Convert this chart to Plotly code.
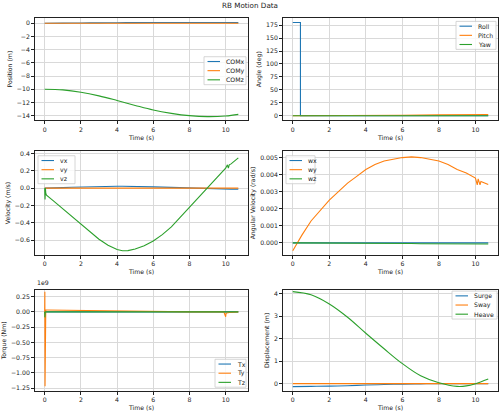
import plotly.graph_objects as go
from plotly.subplots import make_subplots

# ---- data ----
t_pos = [0, 1, 2, 3, 4, 5, 6, 7, 8, 9, 10, 10.7]
com_x = [0.0, 0.01, 0.03, 0.05, 0.07, 0.09, 0.1, 0.11, 0.11, 0.1, 0.1, 0.09]
com_y = [0.0, 0.0, 0.0, 0.0, 0.0, 0.0, 0.0, 0.0, 0.0, 0.0, 0.0, 0.0]
com_z = [-10.0, -10.1, -10.45, -11.0, -11.7, -12.45, -13.15, -13.65, -14.0, -14.15, -14.05, -13.8]

t_ang = [0, 0.42, 0.42, 2, 4, 6, 8, 10, 10.7]
roll = [180, 180, 0, 0, 0, 0, 0, 0, 0]
pitch = [0, 0, 0, 0.3, 0.7, 1.1, 1.6, 2.1, 2.4]
yaw = [0, 0, 0, 0, 0, 0, 0, 0, 0]

t_vel = [0, 0.02, 0.04, 0.06, 0.1, 0.5, 1, 1.5, 2, 2.5, 3, 3.5, 4, 4.3, 4.6, 5, 5.5, 6, 6.5,
         7, 7.5, 8, 8.5, 9, 9.5, 10, 10.1, 10.15, 10.2, 10.3, 10.7]
vx = [0, 0, 0, 0, 0.001, 0.003, 0.006, 0.01, 0.014, 0.017, 0.02, 0.021, 0.022, 0.022, 0.022,
      0.02, 0.018, 0.015, 0.012, 0.008, 0.004, 0.0, -0.002, -0.005, -0.007, -0.01, -0.01,
      -0.01, -0.01, -0.011, -0.012]
vy = [0] * len(t_vel)
vz = [0, -0.13, 0.0, -0.06, -0.08, -0.15, -0.24, -0.33, -0.42, -0.51, -0.59, -0.66, -0.71,
      -0.724, -0.722, -0.703, -0.665, -0.61, -0.537, -0.447, -0.335, -0.22, -0.105, 0.0, 0.12,
      0.23, 0.27, 0.23, 0.27, 0.28, 0.35]

t_w = [0, 0.24, 0.5, 1, 1.5, 2, 2.5, 3, 3.5, 4, 4.5, 5, 5.5, 6, 6.5, 7, 7.5, 8, 8.5, 9,
       9.5, 10, 10.1, 10.15, 10.25, 10.3, 10.7]
wx = [0] * len(t_w)
wy = [-0.00047, 0.0, 0.00045, 0.00128, 0.0019, 0.0025, 0.003, 0.0035, 0.0039, 0.0043,
      0.0046, 0.0048, 0.0049, 0.005, 0.00504, 0.005, 0.0049, 0.0048, 0.0046, 0.0043,
      0.0041, 0.0038, 0.0034, 0.00375, 0.0034, 0.0036, 0.00342]
wz = [0.0, 0.0, 0.0, -0.000005, -0.000008, -0.00001, -0.000015, -0.00002, -0.000025,
      -0.00003, -0.00003, -0.00003, -0.000035, -0.00004, -0.00004, -0.00005, -0.00005,
      -0.00005, -0.000055, -0.00006, -0.00006, -0.00006, -0.00006, -0.00006, -0.00007,
      -0.00007, -0.00007]

t_tq = [0, 0.01, 0.02, 0.03, 0.06, 0.1, 2, 4, 6, 8, 9.9, 10.0, 10.02, 10.05, 10.2, 10.7]
tx = [0, -0.02e9, 0.01e9, 0, 0, 0, 0, 0, 0, 0, 0, 0, 0, 0, 0, 0]
ty = [0, 0.33e9, -1.22e9, 0.0, 0.03e9, 0.03e9, 0.02e9, 0.01e9, 0.005e9, 0.0, 0.0, -0.08e9,
      -0.03e9, -0.02e9, -0.01e9, 0.0]
tz = [0, -0.09e9, 0.0, 0, 0, 0, 0, 0, 0, 0, 0, 0, 0, 0, 0, 0]

t_disp = [0, 1, 2, 3, 4, 5, 6, 7, 8, 9, 9.5, 10, 10.7]
surge = [-0.13, -0.12, -0.11, -0.09, -0.06, -0.04, -0.02, -0.01, 0.0, 0.0, 0.0, 0.0, 0.0]
sway = [0.0] * len(t_disp)
heave = [4.09, 3.95, 3.54, 2.95, 2.24, 1.55, 0.89, 0.35, 0.04, -0.12, -0.1, 0.0, 0.21]

COLORS = ['#1f77b4', '#ff7f0e', '#2ca02c']
FONT = 'DejaVu Sans'
W, H = 500, 414

fig = make_subplots(rows=3, cols=2)

panels = [
    (1, 1, t_pos, [com_x, com_y, com_z], ['COMx', 'COMy', 'COMz'], 'Position (m)', 'spline', 1),
    (1, 2, t_ang, [roll, pitch, yaw], ['Roll', 'Pitch', 'Yaw'], 'Angle (deg)', 'linear', 1),
    (2, 1, t_vel, [vx, vy, vz], ['vx', 'vy', 'vz'], 'Velocity (m/s)', 'linear', 1),
    (2, 2, t_w, [wx, wy, wz], ['wx', 'wy', 'wz'], 'Angular Velocity (rad/s)', 'linear', 1),
    (3, 1, t_tq, [tx, ty, tz], ['Tx', 'Ty', 'Tz'], 'Torque (Nm)', 'linear', 1e9),
    (3, 2, t_disp, [surge, sway, heave], ['Surge', 'Sway', 'Heave'], 'Displacement (m)', 'spline', 1),
]

for r, c, t, series, names, ytitle, shape, scale in panels:
    for i, (ys, nm) in enumerate(zip(series, names)):
        fig.add_trace(go.Scatter(x=t, y=[v / scale for v in ys], name=nm, mode='lines',
                                 line=dict(color=COLORS[i], width=1.1, shape=shape),
                                 showlegend=False), row=r, col=c)
    fig.update_yaxes(title_text=ytitle, row=r, col=c)
    fig.update_xaxes(title_text='Time (s)', row=r, col=c)

# subplot positions (paper coords, from pixel layout)
col_dom = [[0.070, 0.496], [0.566, 0.996]]
row_dom = [[0.7126, 0.9614], [0.3865, 0.6377], [0.0556, 0.3019]]
yranges = [[-14.72, 0.8], [-9, 189], [-0.77, 0.426], [-0.0007, 0.00537], [-1.30, 0.365], [-0.33, 4.18]]
ydticks = [2, 25, 0.2, 0.001, 0.25, 1]
yformats = ['d', 'd', '.1f', '.3f', '.2f', 'd']

for k in range(6):
    r, c = k // 2, k % 2
    ax = '' if k == 0 else str(k + 1)
    fig.layout['xaxis' + ax].domain = col_dom[c]
    fig.layout['yaxis' + ax].domain = row_dom[r]
    fig.layout['xaxis' + ax].range = [-0.535, 11.235]
    fig.layout['xaxis' + ax].dtick = 2
    fig.layout['yaxis' + ax].range = yranges[k]
    fig.layout['yaxis' + ax].dtick = ydticks[k]
    fig.layout['yaxis' + ax].tickformat = yformats[k]

axis_style = dict(showline=True, mirror=True, linecolor='#222222', linewidth=0.8,
                  showgrid=True, gridcolor='#d9d9d9', gridwidth=1, zeroline=False,
                  ticks='outside', ticklen=3, tickcolor='#222222', tickwidth=0.8,
                  tickfont=dict(size=6.2, family=FONT, color='#222222'),
                  title_font=dict(size=6.2, family=FONT, color='#222222'),
                  title_standoff=3)
fig.update_xaxes(**axis_style)
fig.update_yaxes(**axis_style)


# matplotlib-style legend boxes: (left px, top px, width px)
legend_boxes = [(204, 55, 42), (456, 19.5, 40), (38, 154.5, 37),
                (286, 154.5, 29), (215, 359, 31), (452, 290.5, 45)]
ROW = 9.2


def px(x, y):
    return x / W, 1 - y / H


for (x0, y0, w), p in zip(legend_boxes, panels):
    names = p[4]
    xa, ya = px(x0, y0)
    xb, yb = px(x0 + w, y0 + ROW * len(names) + 0.5)
    fig.add_shape(type='rect', xref='paper', yref='paper', x0=xa, x1=xb, y0=yb, y1=ya,
                  fillcolor='rgba(255,255,255,0.8)', line=dict(color='#cccccc', width=0.8))
    for i, nm in enumerate(names):
        yc = y0 + 4.8 + ROW * i
        lx0, ly = px(x0 + 3.5, yc)
        lx1, _ = px(x0 + 16, yc)
        tx0, _ = px(x0 + 19.5, yc)
        fig.add_shape(type='line', xref='paper', yref='paper', x0=lx0, x1=lx1, y0=ly, y1=ly,
                      line=dict(color=COLORS[i], width=1.1))
        fig.add_annotation(text=nm, x=tx0, y=ly, xref='paper', yref='paper', xanchor='left',
                           yanchor='middle', showarrow=False,
                           font=dict(size=6.2, family=FONT, color='#222222'))

fig.add_annotation(text='1e9', x=35 / W, y=1 - 287 / H, xref='paper', yref='paper',
                   xanchor='left', yanchor='bottom', showarrow=False,
                   font=dict(size=6.2, family=FONT, color='#222222'))

fig.update_layout(
    width=W, height=H,
    margin=dict(l=0, r=0, t=0, b=0),
    paper_bgcolor='white', plot_bgcolor='white',
    title=dict(text='RB Motion Data', x=0.5, xanchor='center', y=0.993, yanchor='top',
               font=dict(size=7.2, family=FONT, color='#222222')),
)

fig.write_html("out.html", config={'displayModeBar': False},
               post_script="document.body.style.margin='0';")
